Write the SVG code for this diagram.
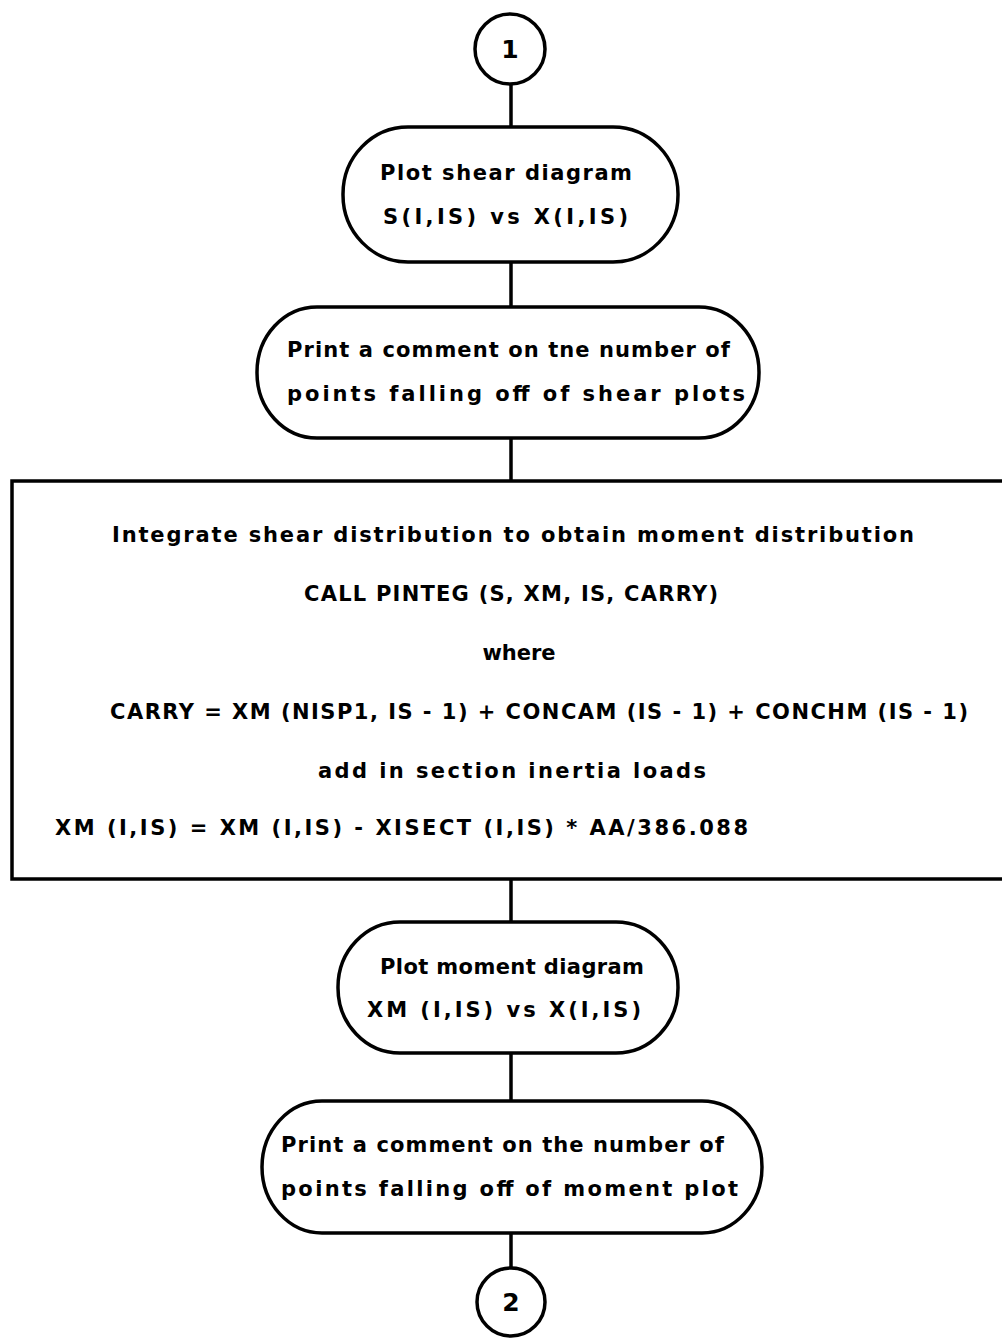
<svg xmlns="http://www.w3.org/2000/svg" width="1002" height="1338" viewBox="0 0 1002 1338">
<style>
.s{fill:#fff;stroke:#000;stroke-width:3.5}
.c{fill:none;stroke:#000;stroke-width:3.5}
text{font-family:"DejaVu Sans","Liberation Sans",sans-serif;font-size:21px;fill:#000;font-weight:bold}
.n{font-size:25px;text-anchor:middle}
.mid{text-anchor:middle}
</style>
<rect width="1002" height="1338" fill="#fff"/>
<g id="connectors">
<line class="c" x1="511" y1="84" x2="511" y2="128"/>
<line class="c" x1="511" y1="262" x2="511" y2="308"/>
<line class="c" x1="511" y1="438" x2="511" y2="482"/>
<line class="c" x1="511" y1="879" x2="511" y2="923"/>
<line class="c" x1="511" y1="1053" x2="511" y2="1102"/>
<line class="c" x1="511" y1="1233" x2="511" y2="1268"/>
</g>
<g id="c1">
<circle class="s" cx="510" cy="49" r="35"/>
<text class="n" x="510" y="58">1</text>
</g>
<g id="t1">
<rect class="s" x="343" y="127" width="335" height="135" rx="65" ry="67"/>
<text x="380" y="180" textLength="252" lengthAdjust="spacing">Plot shear diagram</text>
<text x="383" y="224" textLength="245" lengthAdjust="spacing">S(I,IS) vs X(I,IS)</text>
</g>
<g id="t2">
<rect class="s" x="257" y="307" width="502" height="131" rx="60" ry="65"/>
<text x="287" y="357" textLength="443" lengthAdjust="spacing">Print a comment on tne number of</text>
<text x="287" y="401" textLength="458" lengthAdjust="spacing">points falling off of shear plots</text>
</g>
<g id="b1">
<rect class="s" x="12" y="481" width="1010" height="398"/>
<text x="112" y="542" textLength="802" lengthAdjust="spacing">Integrate shear distribution to obtain moment distribution</text>
<text x="304" y="601" textLength="414" lengthAdjust="spacing">CALL PINTEG (S, XM, IS, CARRY)</text>
<text class="mid" x="519" y="660">where</text>
<text x="110" y="719" textLength="858" lengthAdjust="spacing">CARRY = XM (NISP1, IS - 1) + CONCAM (IS - 1) + CONCHM (IS - 1)</text>
<text x="318" y="778" textLength="388" lengthAdjust="spacing">add in section inertia loads</text>
<text x="55" y="835" textLength="693" lengthAdjust="spacing">XM (I,IS) = XM (I,IS) - XISECT (I,IS) * AA/386.088</text>
</g>
<g id="t3">
<rect class="s" x="338" y="922" width="340" height="131" rx="62" ry="65"/>
<text x="380" y="974" textLength="264" lengthAdjust="spacing">Plot moment diagram</text>
<text x="367" y="1017" textLength="274" lengthAdjust="spacing">XM (I,IS) vs X(I,IS)</text>
</g>
<g id="t4">
<rect class="s" x="262" y="1101" width="500" height="132" rx="60" ry="66"/>
<text x="281" y="1152" textLength="443" lengthAdjust="spacing">Print a comment on the number of</text>
<text x="281" y="1196" textLength="457" lengthAdjust="spacing">points falling off of moment plot</text>
</g>
<g id="c2">
<circle class="s" cx="511" cy="1302" r="34"/>
<text class="n" x="511" y="1311">2</text>
</g>
</svg>
